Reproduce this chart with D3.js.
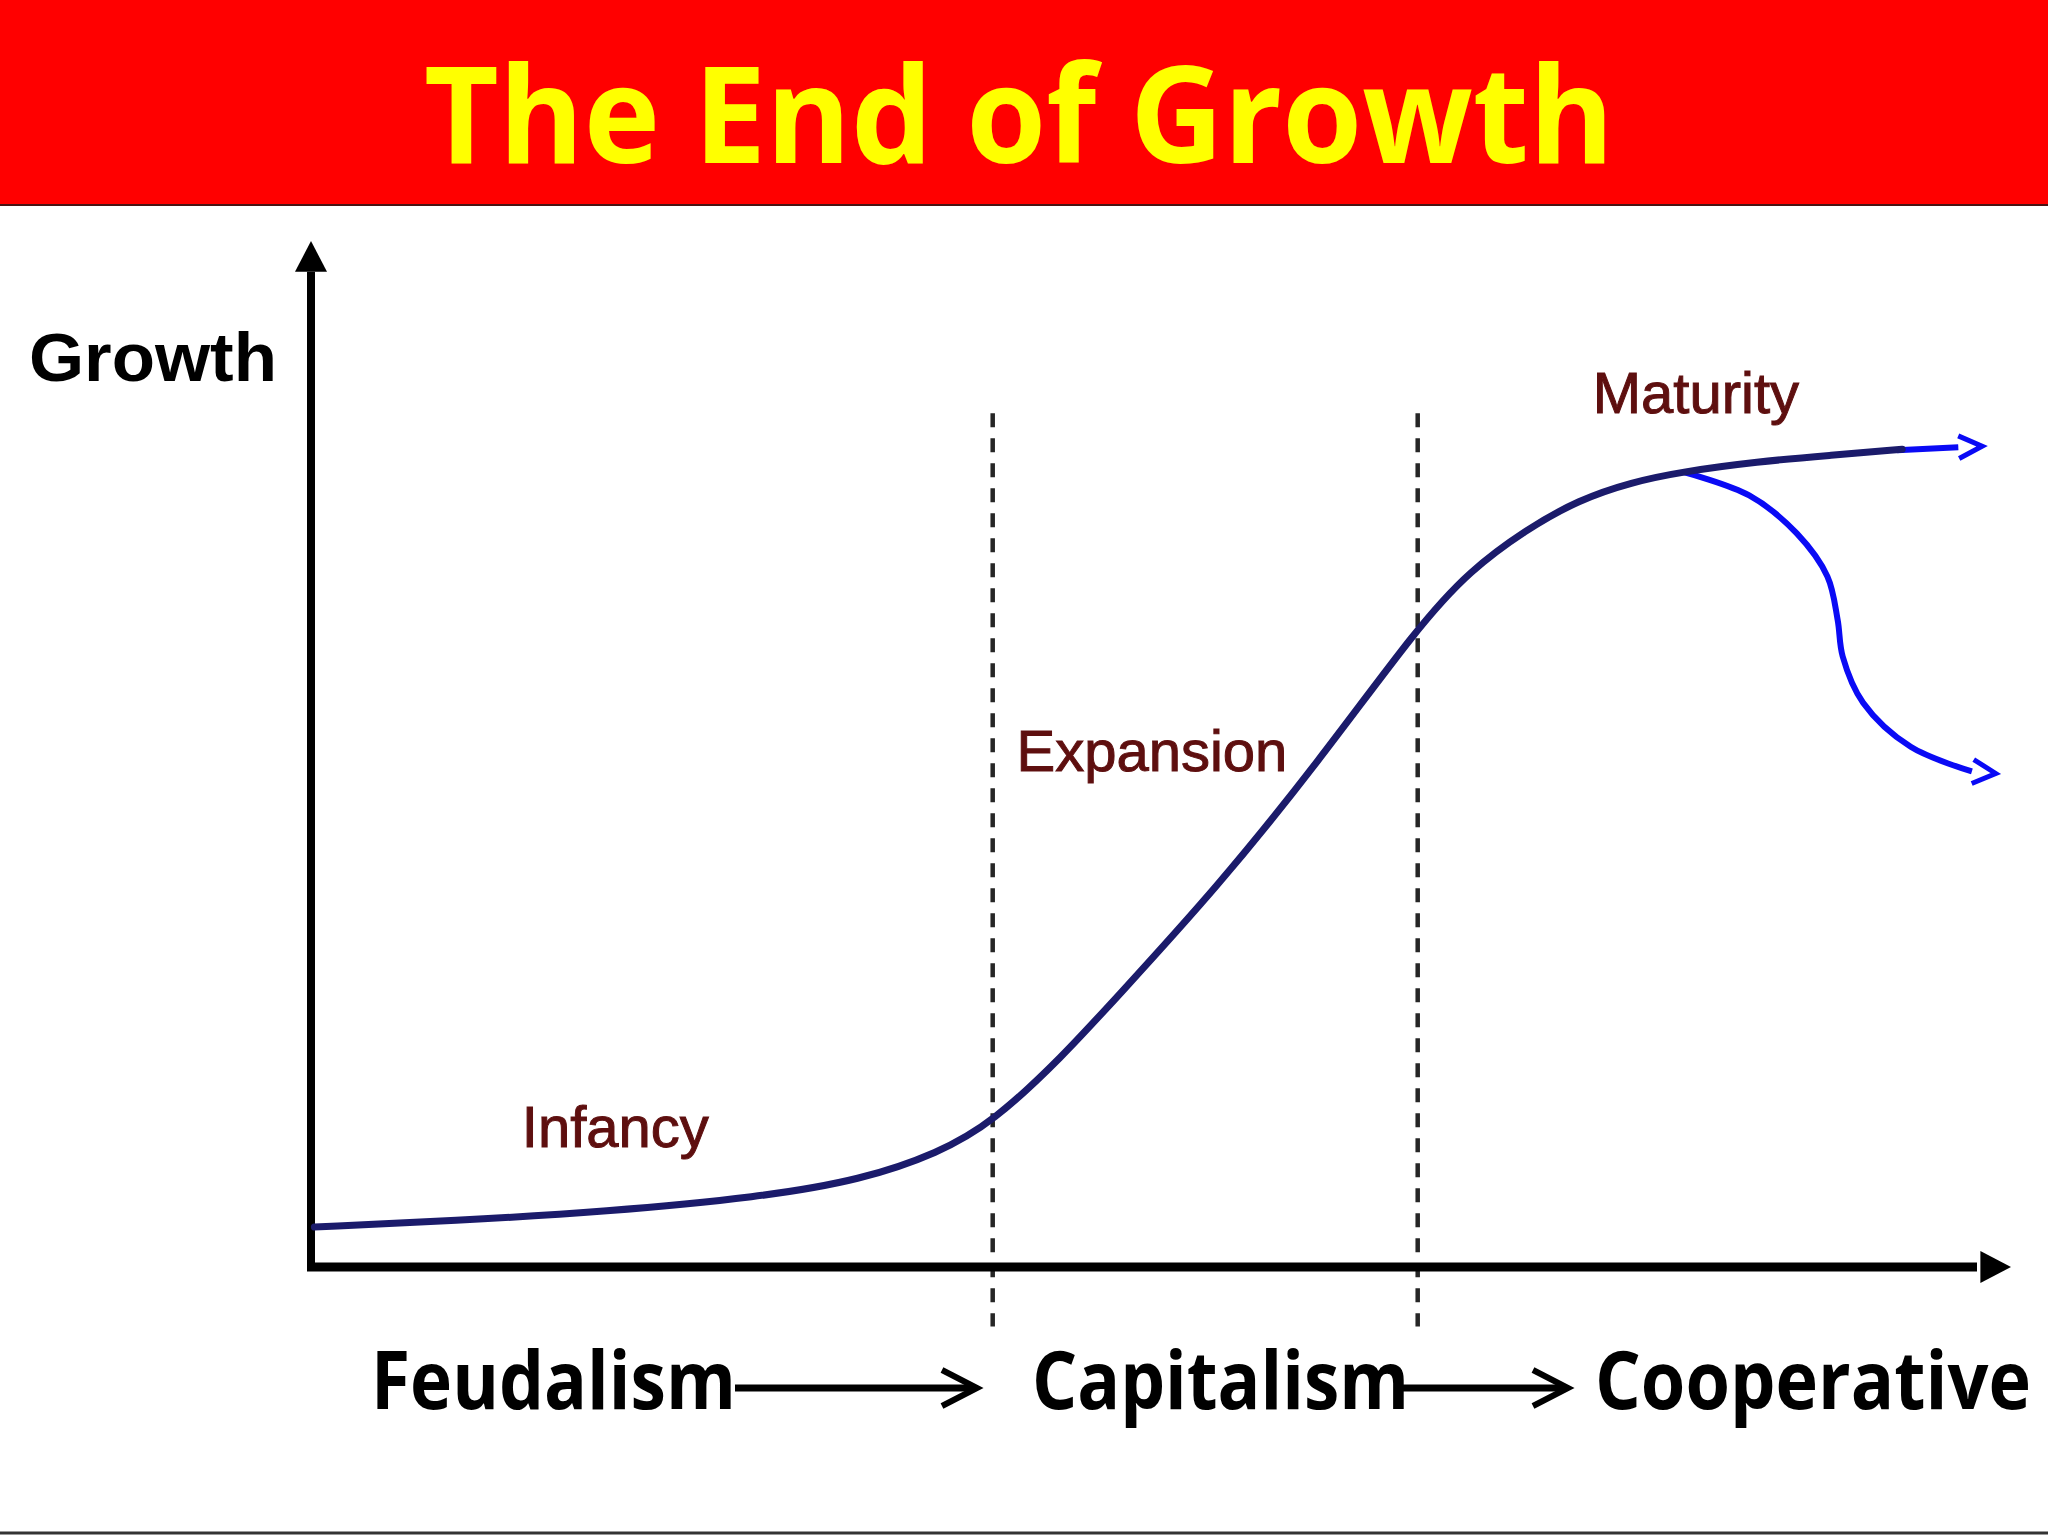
<!DOCTYPE html>
<html>
<head>
<meta charset="utf-8">
<script src="https://cdn.jsdelivr.net/npm/d3@7"></script>
<style>
  body { margin: 0; background: #fff; }
  svg { display: block; }
</style>
</head>
<body>
<div class="chart"></div>
<script>
// Data (time 0-100 along x, growth 0-100 up y)
var titleText = "The End of Growth";
var yLabel = "Growth";

// main S-curve
var sCurveT = [0.2, 8.4, 17.4, 26.4, 32.4, 36.9, 40.1, 44.2, 47.4, 53.3, 59.2, 65.2, 68.2, 71.4, 74.6, 77.7, 80.6, 85.1, 89.3, 93.6];
var sCurveG = [3.9, 4.5, 5.4, 6.8, 8.5, 11.1, 14.1, 20.5, 26.3, 37.0, 49.1, 62.6, 67.9, 71.8, 74.8, 76.5, 77.5, 78.5, 79.1, 79.7];

// blue continuation (flat) and blue decline branch
var flatT = [93.3, 96.9];
var flatG = [79.6, 79.9];
var declineT = [80.7, 84.6, 87.4, 89.2, 89.8, 90.1, 91.3, 94.1, 97.7];
var declineG = [77.5, 75.2, 71.5, 67.3, 63.1, 59.5, 55.0, 50.7, 48.3];

// stage boundaries and names
var stageBounds = [40.1, 65.1];
var stageNames = ["Infancy", "Expansion", "Maturity"];
var stageAt = [[12.4, 11.7], [41.5, 48.3], [75.4, 83.2]];

// economic systems along the bottom
var eras = ["Feudalism", "Capitalism", "Cooperative"];

var svgWidth = 2048;
var svgHeight = 1536;

var svg = d3.select(".chart")
  .append("svg")
  .attr("width", svgWidth)
  .attr("height", svgHeight);

svg.append("rect")
  .attr("width", svgWidth)
  .attr("height", svgHeight)
  .attr("fill", "#ffffff");

// squeeze a text horizontally so it spans the given width
function fitText(g, width) {
  var t = g.select("text");
  var w = t.node().getComputedTextLength();
  t.attr("transform", "scale(" + (width / w) + ",1)");
}

// scales
var xScale = d3.scaleLinear().domain([0, 100]).range([311, 2011]);
var yScale = d3.scaleLinear().domain([0, 100]).range([1267, 241]);

// red banner with title
svg.append("rect")
  .attr("x", 0).attr("y", 0)
  .attr("width", svgWidth).attr("height", 204)
  .attr("fill", "#ff0000");
svg.append("line")
  .attr("x1", 0).attr("x2", svgWidth)
  .attr("y1", 205).attr("y2", 205)
  .attr("stroke", "#4a1414").attr("stroke-width", 2);

var titleG = svg.append("g").attr("transform", "translate(424,163)");
titleG.append("text")
  .attr("font-family", "'Open Sans', sans-serif")
  .attr("font-weight", "bold")
  .attr("font-size", 134)
  .attr("fill", "#ffff00")
  .text(titleText);
fitText(titleG, 1190);

// dashed stage boundaries
svg.selectAll(".stage-line")
  .data(stageBounds)
  .enter()
  .append("line")
  .attr("class", "stage-line")
  .attr("x1", function (d) { return xScale(d); })
  .attr("x2", function (d) { return xScale(d); })
  .attr("y1", yScale(83.2))
  .attr("y2", yScale(-5.8))
  .attr("stroke", "#262626")
  .attr("stroke-width", 4.5)
  .attr("stroke-dasharray", "14,11");

// axes (plain arrows, no ticks)
var axisColor = "#000000";
svg.append("line")
  .attr("x1", xScale(0)).attr("x2", xScale(0))
  .attr("y1", yScale(0) + 4).attr("y2", yScale(97))
  .attr("stroke", axisColor).attr("stroke-width", 8);
svg.append("path")
  .attr("d", "M" + xScale(0) + "," + yScale(100) +
    "L" + (xScale(0) - 16) + "," + yScale(97) +
    "L" + (xScale(0) + 16) + "," + yScale(97) + "Z")
  .attr("fill", axisColor);

svg.append("line")
  .attr("x1", xScale(0) - 4).attr("x2", xScale(98))
  .attr("y1", yScale(0)).attr("y2", yScale(0))
  .attr("stroke", axisColor).attr("stroke-width", 9);
svg.append("path")
  .attr("d", "M" + xScale(100) + "," + yScale(0) +
    "L" + xScale(98.2) + "," + (yScale(0) - 16) +
    "L" + xScale(98.2) + "," + (yScale(0) + 16) + "Z")
  .attr("fill", axisColor);

var yLabelG = svg.append("g").attr("transform", "translate(29,381)");
yLabelG.append("text")
  .attr("font-family", "'Liberation Sans', Arial, sans-serif")
  .attr("font-weight", "bold")
  .attr("font-size", 68)
  .attr("fill", "#000")
  .text(yLabel);
fitText(yLabelG, 248);

// curves
var line = d3.line()
  .x(function (d) { return xScale(d[0]); })
  .y(function (d) { return yScale(d[1]); })
  .curve(d3.curveBasis);

// the decline branch bends back on itself, so use a centripetal spline
var branchLine = d3.line()
  .x(function (d) { return xScale(d[0]); })
  .y(function (d) { return yScale(d[1]); })
  .curve(d3.curveCatmullRom.alpha(0.5));

var sCurve = d3.zip(sCurveT, sCurveG);
var flat = d3.zip(flatT, flatG);
var decline = d3.zip(declineT, declineG);

var blue = "#0a0af5";

svg.append("path")
  .datum(decline)
  .attr("d", branchLine)
  .attr("fill", "none")
  .attr("stroke", blue)
  .attr("stroke-width", 6);

svg.append("path")
  .datum(flat)
  .attr("d", line)
  .attr("fill", "none")
  .attr("stroke", blue)
  .attr("stroke-width", 6);

svg.append("path")
  .datum(sCurve)
  .attr("d", line)
  .attr("fill", "none")
  .attr("stroke", "#1b1b6b")
  .attr("stroke-width", 7)
  .attr("stroke-linecap", "round");

// open chevron arrowheads on the blue lines
function chevron(tip, back, spread) {
  var tx = xScale(tip[0]), ty = yScale(tip[1]);
  var bx = xScale(back[0]), by = yScale(back[1]);
  var ang = Math.atan2(ty - by, tx - bx);
  var len = 26;
  var a1 = ang + Math.PI - spread, a2 = ang + Math.PI + spread;
  return "M" + (tx + len * Math.cos(a1)) + "," + (ty + len * Math.sin(a1)) +
    "L" + tx + "," + ty +
    "L" + (tx + len * Math.cos(a2)) + "," + (ty + len * Math.sin(a2));
}

svg.append("path")
  .attr("d", chevron([98.3, 80.0], flat[1], 0.45))
  .attr("fill", "none").attr("stroke", blue).attr("stroke-width", 5);
svg.append("path")
  .attr("d", chevron([99.1, 48.1], decline[decline.length - 1], 0.48))
  .attr("fill", "none").attr("stroke", blue).attr("stroke-width", 5);

// stage labels
svg.selectAll(".stage-label")
  .data(stageNames)
  .enter()
  .append("text")
  .attr("class", "stage-label")
  .attr("x", function (d, i) { return xScale(stageAt[i][0]); })
  .attr("y", function (d, i) { return yScale(stageAt[i][1]); })
  .attr("font-family", "'Liberation Sans', Arial, sans-serif")
  .attr("font-size", 58)
  .attr("fill", "#5e0f0f")
  .attr("stroke", "#5e0f0f")
  .attr("stroke-width", 1)
  .text(function (d) { return d; });

// eras along the bottom
var eraX = [371, 1032, 1595];
var eraW = [365, 377, 436];
eras.forEach(function (name, i) {
  var g = svg.append("g")
    .attr("class", "era")
    .attr("transform", "translate(" + eraX[i] + ",1409)");
  g.append("text")
    .attr("font-family", "'Open Sans', sans-serif")
    .attr("font-weight", "bold")
    .attr("font-size", 80)
    .attr("fill", "#000")
    .text(name);
  fitText(g, eraW[i]);
});

// arrows between eras
var eraArrows = [[735, 977], [1401, 1568]];
eraArrows.forEach(function (a) {
  svg.append("line")
    .attr("x1", a[0]).attr("x2", a[1] - 6)
    .attr("y1", 1388).attr("y2", 1388)
    .attr("stroke", "#000").attr("stroke-width", 7);
  svg.append("path")
    .attr("d", "M" + (a[1] - 35) + "," + 1370 + "L" + a[1] + "," + 1388 + "L" + (a[1] - 35) + "," + 1406)
    .attr("fill", "none").attr("stroke", "#000").attr("stroke-width", 6);
});

// thin rule at the bottom of the slide
svg.append("line")
  .attr("x1", 0).attr("x2", svgWidth)
  .attr("y1", 1533).attr("y2", 1533)
  .attr("stroke", "#333").attr("stroke-width", 3);
</script>
</body>
</html>
